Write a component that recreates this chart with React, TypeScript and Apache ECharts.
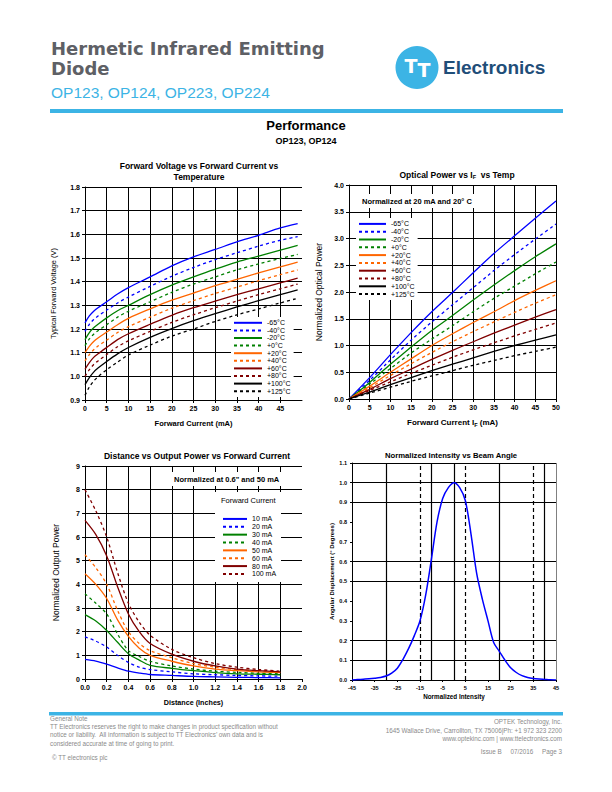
import React, { useEffect, useRef } from 'react';
import * as echarts from 'echarts';

// ---------- Data ----------
const tempNames = ['-65°C', '-40°C', '-20°C', '+0°C', '+20°C', '+40°C', '+60°C', '+80°C', '+100°C', '+125°C'];

// Forward voltage vs forward current (mA)
const fvCurrent = [0, 1, 2, 3, 5, 7.5, 10, 15, 20, 25, 30, 35, 40, 45, 49];
const fvM65 = [1.226, 1.255, 1.275, 1.29, 1.315, 1.348, 1.375, 1.42, 1.467, 1.505, 1.536, 1.568, 1.596, 1.627, 1.645];
const fvM40 = [1.19, 1.22, 1.24, 1.255, 1.28, 1.31, 1.335, 1.38, 1.423, 1.46, 1.493, 1.522, 1.55, 1.575, 1.59];
const fvM20 = [1.155, 1.185, 1.205, 1.22, 1.247, 1.277, 1.3, 1.345, 1.385, 1.42, 1.453, 1.483, 1.508, 1.533, 1.553];
const fvP0 = [1.13, 1.158, 1.178, 1.193, 1.218, 1.25, 1.275, 1.315, 1.355, 1.39, 1.42, 1.45, 1.475, 1.498, 1.515];
const fvP20 = [1.1, 1.127, 1.147, 1.162, 1.187, 1.218, 1.245, 1.285, 1.322, 1.352, 1.383, 1.41, 1.437, 1.462, 1.483];
const fvP40 = [1.065, 1.092, 1.112, 1.128, 1.153, 1.185, 1.21, 1.25, 1.288, 1.32, 1.35, 1.377, 1.404, 1.43, 1.45];
const fvP60 = [1.03, 1.058, 1.08, 1.095, 1.122, 1.155, 1.18, 1.22, 1.258, 1.29, 1.318, 1.345, 1.37, 1.395, 1.415];
const fvP80 = [1.0, 1.028, 1.05, 1.065, 1.092, 1.125, 1.15, 1.19, 1.228, 1.26, 1.29, 1.318, 1.345, 1.37, 1.39];
const fvP100 = [0.965, 0.995, 1.018, 1.035, 1.063, 1.095, 1.122, 1.165, 1.202, 1.235, 1.265, 1.293, 1.32, 1.345, 1.365];
const fvP125 = [0.92, 0.955, 0.98, 0.998, 1.028, 1.06, 1.09, 1.132, 1.17, 1.2, 1.232, 1.26, 1.285, 1.31, 1.33];
const fvValues = [fvM65, fvM40, fvM20, fvP0, fvP20, fvP40, fvP60, fvP80, fvP100, fvP125];

// Normalized optical power vs forward current (mA)
const opCurrent = [0, 5, 10, 15, 20, 25, 30, 35, 40, 45, 50];
const opM65 = [0, 0.4, 0.83, 1.24, 1.63, 1.99, 2.36, 2.72, 3.05, 3.38, 3.7];
const opM40 = [0, 0.35, 0.73, 1.1, 1.44, 1.76, 2.08, 2.4, 2.7, 2.99, 3.27];
const opM20 = [0, 0.31, 0.65, 0.97, 1.28, 1.56, 1.85, 2.13, 2.4, 2.66, 2.9];
const opP0 = [0, 0.28, 0.57, 0.86, 1.12, 1.37, 1.63, 1.88, 2.11, 2.34, 2.56];
const opP20 = [0, 0.24, 0.5, 0.75, 1.0, 1.22, 1.43, 1.63, 1.84, 2.03, 2.21];
const opP40 = [0, 0.21, 0.44, 0.66, 0.87, 1.07, 1.26, 1.44, 1.62, 1.79, 1.95];
const opP60 = [0, 0.18, 0.38, 0.56, 0.74, 0.91, 1.07, 1.23, 1.38, 1.53, 1.67];
const opP80 = [0, 0.16, 0.32, 0.48, 0.63, 0.78, 0.92, 1.05, 1.18, 1.3, 1.42];
const opP100 = [0, 0.13, 0.27, 0.4, 0.53, 0.65, 0.77, 0.89, 1.0, 1.1, 1.2];
const opP125 = [0, 0.11, 0.22, 0.33, 0.43, 0.53, 0.63, 0.72, 0.81, 0.89, 0.97];
const opValues = [opM65, opM40, opM20, opP0, opP20, opP40, opP60, opP80, opP100, opP125];

// Normalized output power vs distance (inches)
const currentNames = ['10 mA', '20 mA', '30 mA', '40 mA', '50 mA', '60 mA', '80 mA', '100 mA'];
const distance = [0, 0.1, 0.2, 0.3, 0.4, 0.5, 0.6, 0.8, 1.0, 1.2, 1.4, 1.6, 1.8];
const d10 = [0.83, 0.76, 0.63, 0.47, 0.33, 0.25, 0.19, 0.15, 0.11, 0.09, 0.07, 0.06, 0.05];
const d20 = [1.78, 1.6, 1.35, 1.0, 0.7, 0.5, 0.4, 0.3, 0.22, 0.18, 0.15, 0.13, 0.12];
const d30 = [2.72, 2.45, 2.05, 1.55, 1.07, 0.8, 0.58, 0.45, 0.35, 0.27, 0.22, 0.2, 0.18];
const d40 = [3.6, 3.2, 2.75, 1.9, 1.2, 0.95, 0.75, 0.55, 0.42, 0.33, 0.28, 0.24, 0.22];
const d50 = [4.45, 4.0, 3.4, 2.5, 1.8, 1.3, 1.0, 0.75, 0.55, 0.42, 0.35, 0.3, 0.27];
const d60 = [5.25, 4.7, 4.0, 2.9, 2.0, 1.5, 1.2, 0.9, 0.65, 0.5, 0.4, 0.35, 0.3];
const d80 = [6.7, 6.1, 5.2, 3.9, 2.75, 2.0, 1.5, 1.05, 0.75, 0.55, 0.42, 0.35, 0.3];
const d100 = [8.0, 7.1, 6.0, 4.5, 3.2, 2.4, 1.85, 1.25, 0.9, 0.65, 0.5, 0.4, 0.33];
const distValues = [d10, d20, d30, d40, d50, d60, d80, d100];

// Normalized intensity vs beam angle (degrees)
const beamAngle = [-45, -42.5, -40, -37.5, -35, -32.5, -30, -27.5, -25, -22.5, -20, -17.5, -15, -12.5, -10, -7.5, -5, -2.5, 0,
  2.5, 5, 7.5, 10, 12.5, 15, 17.5, 20, 22.5, 25, 27.5, 30, 32.5, 35, 37.5, 40, 42.5, 45];
const beamIntensity = [0, 0.002, 0.004, 0.006, 0.009, 0.013, 0.02, 0.035, 0.06, 0.105, 0.16, 0.225, 0.3, 0.43, 0.61, 0.8, 0.92, 0.975, 1.0,
  0.975, 0.91, 0.74, 0.54, 0.41, 0.3, 0.19, 0.145, 0.1, 0.062, 0.038, 0.022, 0.013, 0.008, 0.005, 0.003, 0.001, 0];
const beamSolidX = [-30, -10, 0, 20, 40];
const beamDashedX = [-15, 5, 35];
const beamSolidY = [0.1, 0.2, 0.5, 0.6, 0.9, 1.0, 1.1];

// ---------- Styles ----------
const FONT = '"Liberation Sans", Arial, Helvetica, sans-serif';
const pairColors = ['#0000ff', '#0000ff', '#008000', '#008000', '#ff6600', '#ff6600', '#800000', '#800000', '#000000', '#000000'];
const BLUE = '#3cb4e5';
const GREY = '#8a8a8a';

function buildSeries(names: string[], xs: number[], ysList: number[][], axis: number, smooth: number) {
  return names.map((name, i) => ({
    type: 'line',
    name,
    xAxisIndex: axis,
    yAxisIndex: axis,
    data: xs.map((x, j) => [x, ysList[i][j]]),
    symbol: 'none',
    showSymbol: false,
    smooth,
    lineStyle: { color: pairColors[i], width: 1.3, type: i % 2 === 1 ? [3, 3] : 'solid' },
    itemStyle: { color: pairColors[i] },
    z: 3,
    silent: true,
  }));
}

const tickLabel = (size: number) => ({ fontSize: size, fontWeight: 'bold', color: '#000', fontFamily: FONT });
const blackLine = { color: '#000', width: 1 };

function axis(grid: number, min: number, max: number, interval: number, digits: number, extra: any) {
  return {
    type: 'value',
    gridIndex: grid,
    min,
    max,
    interval,
    axisLine: { show: true, onZero: false, lineStyle: blackLine },
    axisTick: { show: true, length: 3, lineStyle: blackLine },
    splitLine: { show: true, lineStyle: blackLine },
    nameLocation: 'middle',
    ...extra,
    axisLabel: {
      ...tickLabel(7),
      margin: 5,
      formatter: (v: number) => v.toFixed(digits),
      ...(extra.axisLabel || {}),
    },
  };
}

function footText(text: string, x: number, y: number, align: string) {
  return {
    type: 'text', x, y, z: 5,
    style: { text, font: `6.3px ${FONT}`, fill: GREY, textAlign: align, textVerticalAlign: 'middle' },
  };
}

export default function App() {
  const ref = useRef<HTMLDivElement>(null);
  useEffect(() => {
    if (!ref.current) return;
    const chart = echarts.init(ref.current, null, { renderer: 'svg' });

    const subRich = {
      a: { fontSize: 8.5, fontWeight: 'bold', fontFamily: FONT, color: '#000' },
      s: { fontSize: 5.5, fontWeight: 'bold', fontFamily: FONT, color: '#000', padding: [5, 0, 0, 0] },
    };
    const subRichX = {
      a: { fontSize: 8, fontWeight: 'bold', fontFamily: FONT, color: '#000' },
      s: { fontSize: 5.5, fontWeight: 'bold', fontFamily: FONT, color: '#000', padding: [5, 0, 0, 0] },
    };

    const beamLines = [
      ...beamSolidX.map((v) => ({ xAxis: v, lineStyle: { color: '#000', width: 1.2, type: 'solid' } })),
      ...beamDashedX.map((v) => ({ xAxis: v, lineStyle: { color: '#000', width: 1.2, type: [4, 3] } })),
      ...beamSolidY.map((v) => ({ yAxis: v, lineStyle: { color: '#000', width: 1.2, type: 'solid' } })),
      { xAxis: 45, lineStyle: { color: '#808080', width: 1, type: 'solid' } },
    ];

    const legendBase = {
      orient: 'vertical',
      selectedMode: false,
      backgroundColor: '#fff',
      itemGap: 0,
      padding: [2, 3, 2, 2],
      itemStyle: { opacity: 0 },
      z: 6,
    };

    const option: any = {
      animation: false,
      backgroundColor: '#fff',
      title: [
        {
          text: 'Forward Voltage vs Forward Current vs\nTemperature',
          left: 194, top: 155, textAlign: 'center',
          textStyle: { fontSize: 8.5, fontWeight: 'bold', fontFamily: FONT, color: '#000', lineHeight: 11 },
        },
        {
          text: '{a|Optical Power vs I}{s|F}{a|  vs Temp}',
          left: 452, top: 164, textAlign: 'center',
          textStyle: { rich: subRich },
        },
        {
          text: 'Distance vs Output Power vs Forward Current',
          left: 192, top: 446, textAlign: 'center',
          textStyle: { fontSize: 8.5, fontWeight: 'bold', fontFamily: FONT, color: '#000' },
        },
        {
          text: 'Normalized Intensity vs Beam Angle',
          left: 446, top: 446, textAlign: 'center',
          textStyle: { fontSize: 7.7, fontWeight: 'bold', fontFamily: FONT, color: '#000' },
        },
      ],
      grid: [
        { left: 85, top: 187, width: 217, height: 213 },
        { left: 349, top: 185, width: 207, height: 214 },
        { left: 85, top: 466, width: 217, height: 213 },
        { left: 352, top: 463, width: 204, height: 217 },
      ],
      xAxis: [
        axis(0, 0, 50, 5, 0, {
          axisLabel: { showMaxLabel: false },
          splitLine: { show: true, showMaxLine: false, lineStyle: blackLine },
          name: 'Forward Current (mA)', nameGap: 19,
          nameTextStyle: { fontSize: 7.5, fontWeight: 'bold', color: '#000', fontFamily: FONT },
        }),
        axis(1, 0, 50, 5, 0, {
          name: '{a|Forward Current I}{s|F}{a| (mA)}', nameGap: 18,
          nameTextStyle: { rich: subRichX },
        }),
        axis(2, 0, 2, 0.2, 1, {
          splitLine: { show: true, showMaxLine: false, lineStyle: blackLine },
          name: 'Distance (Inches)', nameGap: 20,
          nameTextStyle: { fontSize: 7.2, fontWeight: 'bold', color: '#000', fontFamily: FONT },
        }),
        axis(3, -45, 45, 10, 0, {
          axisLabel: { ...tickLabel(5.5), margin: 5 },
          axisTick: { show: true, length: 2, lineStyle: blackLine },
          splitLine: { show: false },
          name: 'Normalized Intensity', nameGap: 13,
          nameTextStyle: { fontSize: 6.3, fontWeight: 'bold', color: '#000', fontFamily: FONT },
        }),
      ],
      yAxis: [
        axis(0, 0.9, 1.8, 0.1, 1, {
          name: 'Typical Forward Voltage (V)', nameGap: 28,
          nameTextStyle: { fontSize: 7.4, color: '#000', fontFamily: FONT },
        }),
        axis(1, 0, 4, 0.5, 1, {
          name: 'Normalized Optical Power', nameGap: 26,
          nameTextStyle: { fontSize: 8.5, color: '#000', fontFamily: FONT },
        }),
        axis(2, 0, 9, 1, 0, {
          name: 'Normalized Output Power', nameGap: 25,
          nameTextStyle: { fontSize: 8.5, color: '#000', fontFamily: FONT },
        }),
        axis(3, 0, 1.1, 0.1, 1, {
          axisLabel: { ...tickLabel(5.5), margin: 5 },
          axisTick: { show: true, length: 2, lineStyle: blackLine },
          splitLine: { show: false },
          name: 'Angular Displacement (° Degrees)', nameGap: 15,
          nameTextStyle: { fontSize: 6, fontWeight: 'bold', color: '#000', fontFamily: FONT },
        }),
      ],
      legend: [
        {
          ...legendBase, data: tempNames, left: 231, top: 317,
          itemWidth: 28, itemHeight: 7.6,
          textStyle: { fontSize: 7, fontFamily: FONT, color: '#000', lineHeight: 7.6 },
        },
        {
          ...legendBase, data: tempNames, left: 356, top: 218,
          itemWidth: 27, itemHeight: 7.8,
          textStyle: { fontSize: 7, fontFamily: FONT, color: '#000', lineHeight: 7.8 },
        },
        {
          ...legendBase, data: currentNames, left: 220, top: 513,
          itemWidth: 24, itemHeight: 7.86,
          textStyle: { fontSize: 7, fontFamily: FONT, color: '#000', lineHeight: 7.86 },
        },
      ],
      series: [
        ...buildSeries(tempNames, fvCurrent, fvValues, 0, 0.3),
        ...buildSeries(tempNames, opCurrent, opValues, 1, 0.15),
        ...buildSeries(currentNames, distance, distValues, 2, 0.3),
        {
          type: 'line',
          name: 'Normalized Intensity',
          xAxisIndex: 3,
          yAxisIndex: 3,
          data: beamAngle.map((a, i) => [a, beamIntensity[i]]),
          symbol: 'none',
          showSymbol: false,
          smooth: 0.3,
          lineStyle: { color: '#0000ff', width: 1.5 },
          itemStyle: { color: '#0000ff' },
          z: 3,
          silent: true,
          markLine: {
            silent: true,
            symbol: ['none', 'none'],
            label: { show: false },
            animation: false,
            z: 2,
            data: beamLines,
          },
        },
      ],
      graphic: [
        // Header
        {
          type: 'text', x: 51, y: 58.5, z: 5,
          style: {
            text: 'Hermetic Infrared Emitting\nDiode', font: 'bold 18px "DejaVu Sans", sans-serif',
            lineHeight: 19.5, fill: '#5e6065', textVerticalAlign: 'middle',
          },
        },
        { type: 'text', x: 51, y: 92, z: 5, style: { text: 'OP123, OP124, OP223, OP224', font: `15.5px ${FONT}`, fill: BLUE, textVerticalAlign: 'middle' } },
        { type: 'circle', z: 5, shape: { cx: 417, cy: 67.5, r: 21.5 }, style: { fill: BLUE } },
        {
          type: 'text', x: 417.5, y: 68, z: 6,
          style: {
            text: '{a|T}{b|T}', textAlign: 'center', textVerticalAlign: 'middle', fill: '#fff',
            rich: {
              a: { fontSize: 19, fontWeight: 'bold', fontFamily: '"DejaVu Sans", sans-serif', fill: '#fff', padding: [0, 0, 4, 0] },
              b: { fontSize: 19, fontWeight: 'bold', fontFamily: '"DejaVu Sans", sans-serif', fill: '#fff', padding: [4, 0, 0, 0] },
            },
          },
        },
        { type: 'text', x: 443, y: 67, z: 5, style: { text: 'Electronics', font: `bold 19px ${FONT}`, fill: '#1f4e79', textVerticalAlign: 'middle' } },
        { type: 'rect', z: 5, shape: { x: 50, y: 109, width: 513, height: 4 }, style: { fill: BLUE } },
        { type: 'text', x: 306, y: 125.5, z: 5, style: { text: 'Performance', font: `bold 13px ${FONT}`, fill: '#000', textAlign: 'center', textVerticalAlign: 'middle' } },
        { type: 'text', x: 306, y: 140.5, z: 5, style: { text: 'OP123, OP124', font: `bold 9px ${FONT}`, fill: '#000', textAlign: 'center', textVerticalAlign: 'middle' } },
        // Chart 2 annotation
        { type: 'rect', z: 1, shape: { x: 358, y: 194, width: 124, height: 14 }, style: { fill: '#fff' } },
        { type: 'text', x: 362, y: 201, z: 5, style: { text: 'Normalized at 20 mA and 20° C', font: `bold 7.5px ${FONT}`, fill: '#000', textVerticalAlign: 'middle' } },
        // Chart 3 annotations
        { type: 'rect', z: 1, shape: { x: 170, y: 472, width: 117, height: 14 }, style: { fill: '#fff' } },
        { type: 'text', x: 174, y: 479, z: 5, style: { text: 'Normalized at 0.6" and 50 mA', font: `bold 7.5px ${FONT}`, fill: '#000', textVerticalAlign: 'middle' } },
        { type: 'rect', z: 1, shape: { x: 215, y: 492, width: 66, height: 90 }, style: { fill: '#fff' } },
        { type: 'text', x: 221, y: 500, z: 5, style: { text: 'Forward Current', font: `7.5px ${FONT}`, fill: '#000', textVerticalAlign: 'middle' } },
        // Footer
        { type: 'rect', z: 5, shape: { x: 49, y: 712, width: 514, height: 3.5 }, style: { fill: BLUE } },
        footText('General Note', 50, 718, 'left'),
        footText('TT Electronics reserves the right to make changes in product specification without', 50, 726, 'left'),
        footText('notice or liability.  All information is subject to TT Electronics\u2019 own data and is', 50, 734.5, 'left'),
        footText('considered accurate at time of going to print.', 50, 743, 'left'),
        footText('© TT electronics plc', 52, 757.5, 'left'),
        footText('OPTEK Technology, Inc.', 562, 721.5, 'right'),
        footText('1645 Wallace Drive, Carrollton, TX 75006|Ph: +1 972 323 2200', 562, 730, 'right'),
        footText('www.optekinc.com | www.ttelectronics.com', 562, 738.5, 'right'),
        footText('Issue B     07/2016     Page 3', 562, 751, 'right'),
      ],
    };

    chart.setOption(option);
    return () => chart.dispose();
  }, []);

  return (
    <div
      ref={ref}
      style={{ position: 'absolute', left: 0, top: 0, width: 612, height: 792, background: '#fff' }}
    />
  );
}
